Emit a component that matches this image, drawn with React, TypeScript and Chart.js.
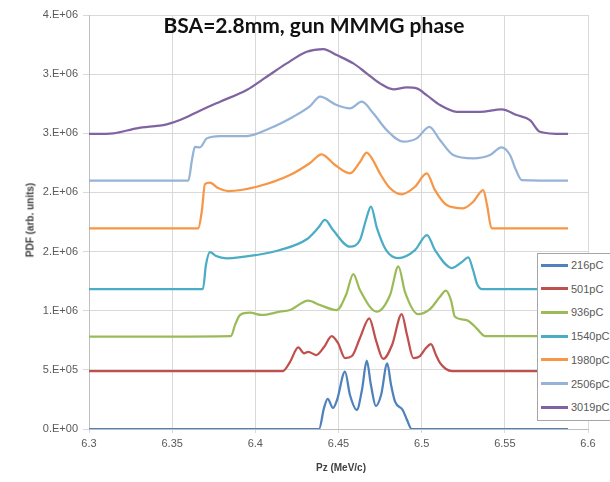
import React, { useEffect, useRef } from "react";
import { Chart, registerables } from "chart.js";

Chart.register(...registerables);

const seriesNames = ["216pC", "501pC", "936pC", "1540pC", "1980pC", "2506pC", "3019pC"];
const seriesColors = ["#4F81BD", "#C0504D", "#9BBB59", "#4BACC6", "#F79646", "#95B3D7", "#8064A2"];

const xTickLabels = ["6.3", "6.35", "6.4", "6.45", "6.5", "6.55", "6.6"];
const yTickLabels = ["0.E+00", "5.E+05", "1.E+06", "2.E+06", "2.E+06", "3.E+06", "3.E+06", "4.E+06"];

// Pz (MeV/c) and PDF (×1e6 arb. units) for each series
const pz216 = [6.3, 6.4383, 6.4413, 6.4435, 6.4467, 6.4491, 6.4539, 6.4569, 6.461, 6.4641, 6.467, 6.4695, 6.4725, 6.4756, 6.4793, 6.4816, 6.484, 6.4886, 6.4912, 6.494, 6.588];
const pdf216 = [0, 0, 0.178, 0.254, 0.178, 0.245, 0.484, 0.287, 0.161, 0.33, 0.577, 0.372, 0.194, 0.287, 0.555, 0.372, 0.231, 0.161, 0.076, 0, 0];

const pz501 = [6.3, 6.4166, 6.4208, 6.4258, 6.4293, 6.4318, 6.4365, 6.4413, 6.4459, 6.4497, 6.4539, 6.4581, 6.4629, 6.4685, 6.4725, 6.4769, 6.4822, 6.488, 6.4912, 6.495, 6.499, 6.5026, 6.5056, 6.5086, 6.511, 6.5146, 6.5182, 6.588];
const pdf501 = [0.49, 0.49, 0.566, 0.69, 0.64, 0.653, 0.625, 0.693, 0.786, 0.727, 0.6, 0.617, 0.769, 0.936, 0.752, 0.592, 0.71, 0.972, 0.795, 0.6, 0.617, 0.685, 0.718, 0.625, 0.558, 0.507, 0.49, 0.49];

const pz936 = [6.3, 6.3854, 6.3878, 6.3908, 6.3968, 6.4038, 6.4148, 6.4208, 6.4318, 6.4389, 6.4489, 6.4545, 6.4589, 6.4629, 6.473, 6.481, 6.486, 6.49, 6.4978, 6.505, 6.511, 6.5146, 6.5176, 6.52, 6.527, 6.533, 6.538, 6.588];
const pdf936 = [0.78, 0.786, 0.88, 0.964, 0.983, 0.964, 0.992, 1.006, 1.085, 1.048, 1.006, 1.133, 1.31, 1.175, 0.992, 1.133, 1.374, 1.158, 0.972, 1.014, 1.118, 1.169, 1.09, 0.949, 0.921, 0.851, 0.786, 0.786];

const pz1540 = [6.3, 6.3685, 6.3703, 6.3727, 6.3764, 6.3828, 6.4008, 6.4148, 6.4309, 6.4377, 6.4419, 6.4467, 6.4569, 6.4629, 6.4665, 6.4695, 6.4731, 6.4786, 6.4858, 6.496, 6.5032, 6.508, 6.5182, 6.5242, 6.528, 6.5309, 6.5333, 6.5363, 6.588];
const pdf1540 = [1.183, 1.183, 1.386, 1.496, 1.462, 1.443, 1.471, 1.513, 1.604, 1.699, 1.767, 1.682, 1.541, 1.598, 1.767, 1.881, 1.699, 1.513, 1.445, 1.513, 1.64, 1.513, 1.361, 1.412, 1.451, 1.344, 1.226, 1.183, 1.183];

const pz1980 = [6.3, 6.3657, 6.3679, 6.3697, 6.3727, 6.3776, 6.3838, 6.4008, 6.4208, 6.4329, 6.4398, 6.4479, 6.4569, 6.4629, 6.4669, 6.4707, 6.4749, 6.4809, 6.488, 6.496, 6.503, 6.508, 6.515, 6.525, 6.531, 6.537, 6.5393, 6.542, 6.588];
const pdf1980 = [1.697, 1.697, 1.851, 2.071, 2.082, 2.037, 2.012, 2.048, 2.147, 2.249, 2.322, 2.232, 2.161, 2.257, 2.336, 2.274, 2.161, 2.037, 1.984, 2.048, 2.161, 2.02, 1.894, 1.866, 1.921, 2.02, 1.894, 1.697, 1.697];

const pz2506 = [6.3, 6.3597, 6.3619, 6.3637, 6.3667, 6.3708, 6.3788, 6.3948, 6.4088, 6.4228, 6.4329, 6.4389, 6.4489, 6.4569, 6.464, 6.4709, 6.479, 6.489, 6.497, 6.5046, 6.511, 6.519, 6.531, 6.5411, 6.548, 6.5531, 6.5567, 6.5601, 6.588];
const pdf2506 = [2.099, 2.099, 2.274, 2.386, 2.381, 2.457, 2.477, 2.477, 2.542, 2.64, 2.73, 2.809, 2.739, 2.711, 2.767, 2.669, 2.527, 2.429, 2.457, 2.555, 2.443, 2.316, 2.288, 2.316, 2.381, 2.316, 2.189, 2.105, 2.099];

const pz3019 = [6.3, 6.3146, 6.3287, 6.3467, 6.3547, 6.3667, 6.3788, 6.3948, 6.4068, 6.4189, 6.4309, 6.4409, 6.4489, 6.4589, 6.4669, 6.4749, 6.483, 6.491, 6.497, 6.503, 6.511, 6.5211, 6.5351, 6.5481, 6.5571, 6.5651, 6.5711, 6.5852, 6.588];
const pdf3019 = [2.494, 2.5, 2.542, 2.576, 2.612, 2.691, 2.767, 2.866, 2.978, 3.091, 3.189, 3.212, 3.161, 3.091, 3.007, 2.922, 2.872, 2.888, 2.88, 2.823, 2.739, 2.682, 2.682, 2.702, 2.654, 2.612, 2.513, 2.494, 2.494];

const allPz = [pz216, pz501, pz936, pz1540, pz1980, pz2506, pz3019];
const allPdf = [pdf216, pdf501, pdf936, pdf1540, pdf1980, pdf2506, pdf3019];

const tickFont = { family: "'Liberation Sans', Arial, sans-serif", size: 11 };

export default function App() {
  const canvasRef = useRef<HTMLCanvasElement | null>(null);

  useEffect(() => {
    if (!canvasRef.current) return;
    const datasets = seriesNames.map((name, i) => ({
      label: name,
      data: allPz[i].map((x, j) => ({ x, y: allPdf[i][j] * 1e6 })),
      borderColor: seriesColors[i],
      backgroundColor: seriesColors[i],
      borderWidth: 2.25,
      pointRadius: 0,
      cubicInterpolationMode: "monotone" as const,
      fill: false,
    }));
    const chart = new Chart(canvasRef.current, {
      type: "line",
      data: { datasets },
      options: {
        animation: false,
        responsive: false,
        devicePixelRatio: 1,
        layout: { padding: { top: 15, right: 22, left: 0, bottom: 0 } },
        plugins: { legend: { display: false }, title: { display: false }, tooltip: { enabled: false } },
        scales: {
          x: {
            type: "linear",
            min: 6.3,
            max: 6.6,
            ticks: {
              stepSize: 0.05,
              color: "#595959",
              font: tickFont,
              padding: 4,
              maxRotation: 0,
              callback: (_v: any, idx: number) => xTickLabels[idx],
            },
            grid: { color: "#d9d9d9", lineWidth: 1, tickLength: 4 },
            border: { color: "#bfbfbf" },
            afterFit: (s: any) => { s.height = 53; },
          },
          y: {
            type: "linear",
            min: 0,
            max: 3.5e6,
            ticks: {
              stepSize: 5e5,
              color: "#595959",
              font: tickFont,
              padding: 5,
              callback: (_v: any, idx: number) => yTickLabels[idx],
            },
            grid: { color: "#d9d9d9", lineWidth: 1, tickLength: 6 },
            border: { color: "#bfbfbf" },
            afterFit: (s: any) => { s.width = 89; },
          },
        },
      },
    });
    return () => chart.destroy();
  }, []);

  return (
    <div style={{ position: "absolute", left: 0, top: 0, width: 610, height: 482, overflow: "hidden", background: "#fff" }}>
      <canvas ref={canvasRef} width={610} height={482} style={{ position: "absolute", left: 0, top: 0, width: 610, height: 482 }} />
      <div
        style={{
          position: "absolute", left: 114, width: 400, top: 11, textAlign: "center",
          fontFamily: "Lato, 'Open Sans', sans-serif", fontWeight: 700, fontSize: 21, color: "#111", lineHeight: "27px",
        }}
      >
        BSA=2.8mm, gun MMMG phase
      </div>
      <div
        style={{
          position: "absolute", left: 30, top: 220, transform: "translate(-50%, -50%) rotate(-90deg)", whiteSpace: "nowrap",
          fontFamily: "'Liberation Sans', Arial, sans-serif", fontWeight: 700, fontSize: 10, color: "#404040",
        }}
      >
        PDF (arb. units)
      </div>
      <div
        style={{
          position: "absolute", left: 341, top: 467, transform: "translate(-50%, -50%)", whiteSpace: "nowrap",
          fontFamily: "'Liberation Sans', Arial, sans-serif", fontWeight: 700, fontSize: 10, color: "#404040",
        }}
      >
        Pz (MeV/c)
      </div>
      <div
        style={{
          position: "absolute", left: 537, top: 253, width: 90, height: 168, background: "#fff",
          border: "1px solid #a6a6a6", boxSizing: "border-box",
        }}
      >
        {seriesNames.map((name, i) => (
          <div key={name} style={{ position: "absolute", left: 3, top: 11 + i * 23.7 - 8, height: 16, display: "flex", alignItems: "center" }}>
            <div style={{ width: 27, height: 3, background: seriesColors[i] }} />
            <span style={{ marginLeft: 3, fontFamily: "'Liberation Sans', Arial, sans-serif", fontSize: 11, color: "#595959", whiteSpace: "nowrap" }}>
              {name}
            </span>
          </div>
        ))}
      </div>
    </div>
  );
}
